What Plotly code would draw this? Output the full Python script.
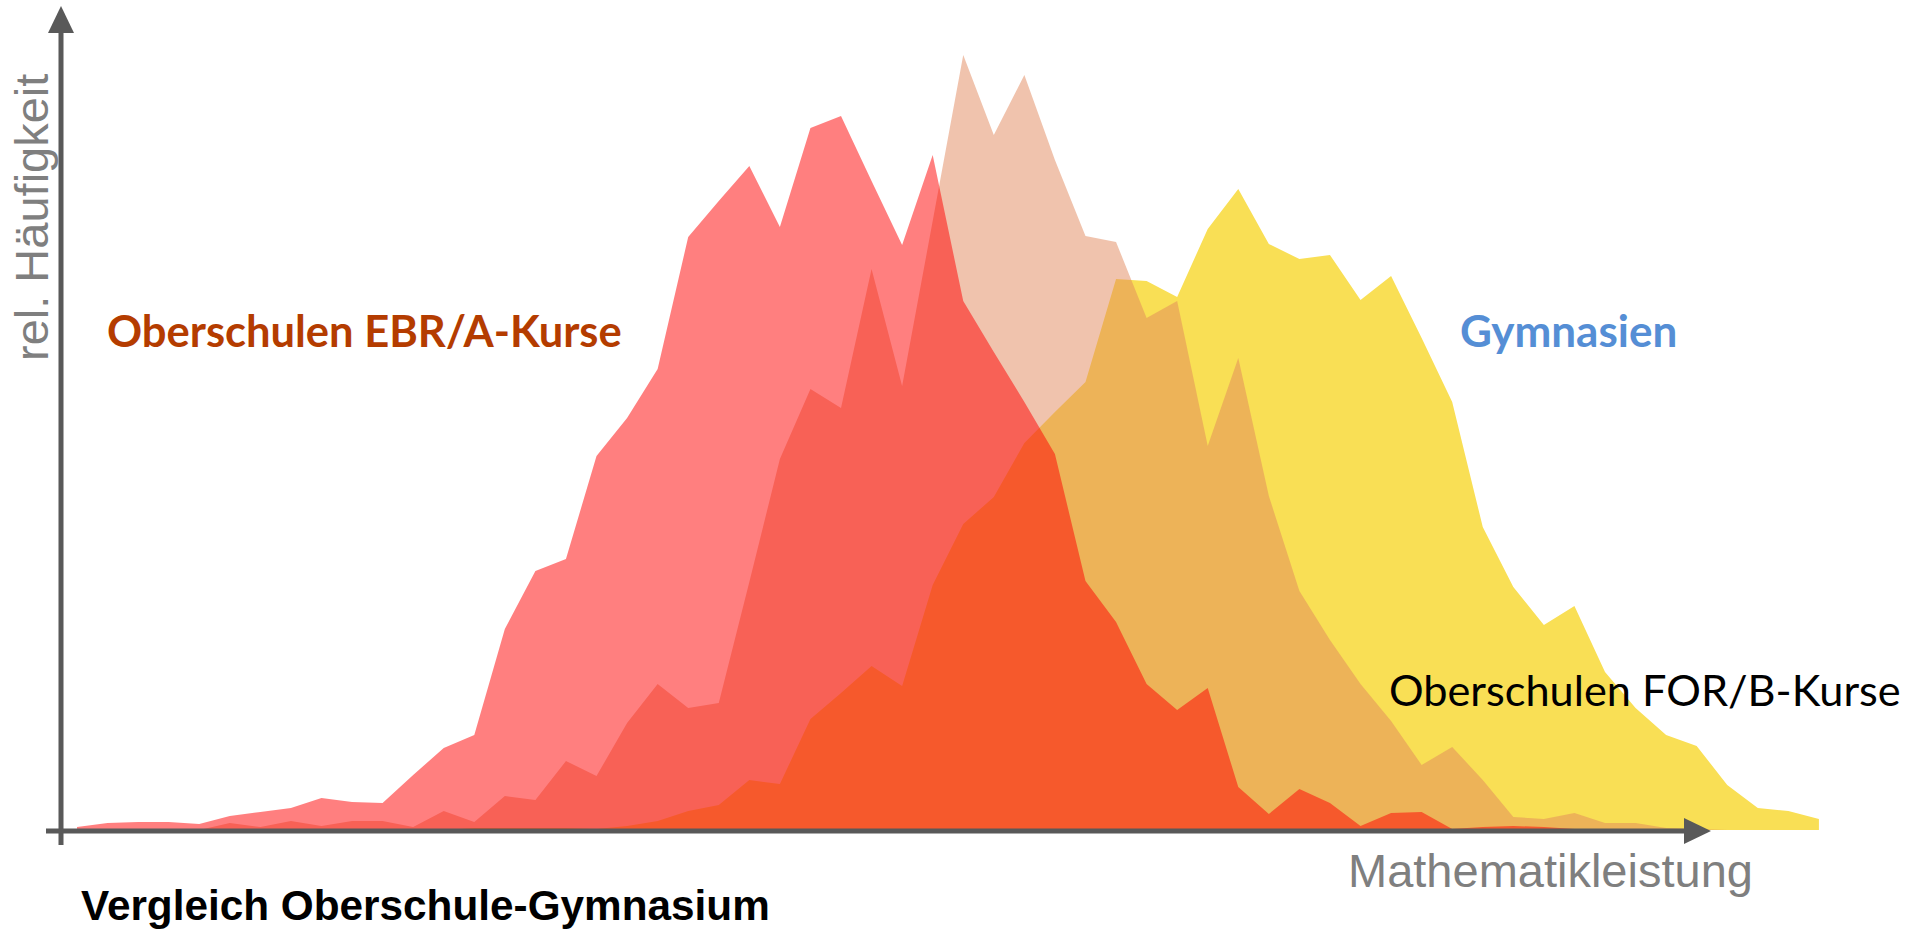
import plotly.graph_objects as go

# score classes (equidistant bins of the achievement scale)
score = list(range(58))

# relative frequencies
ebr_a = [0.3, 0.7, 0.8, 0.8, 0.6, 1.4, 1.8, 2.2, 3.2, 2.8,
         2.7, 5.5, 8.2, 9.5, 20.1, 25.9, 27.1, 37.4, 41.2, 46.1,
         59.3, 62.9, 66.4, 60.3, 70.2, 71.4, 64.9, 58.5, 67.5, 52.9,
         47.8, 42.8, 37.6, 24.9, 20.8, 14.6, 12.0, 14.2, 4.3, 1.6,
         4.1, 2.7, 0.4, 1.7, 1.8, 0.1, 0.3, 0.4, 0.3, 0.1,
         0, 0, 0, 0, 0, 0, 0, 0]
for_b = [0, 0, 0, 0, 0, 0.7, 0.3, 0.9, 0.4, 0.9,
         0.9, 0.3, 1.9, 0.8, 3.4, 3.0, 6.9, 5.4, 10.7, 14.6,
         12.2, 12.7, 24.8, 37.1, 44.1, 42.2, 56.1, 44.4, 60.9, 77.5,
         69.5, 75.5, 67.0, 59.4, 58.8, 51.2, 52.9, 38.4, 47.2, 33.4,
         23.9, 19.0, 14.6, 10.9, 6.5, 8.3, 5.0, 1.3, 1.1, 1.7,
         0.7, 0.7, 0.2, 0.1, 0, 0, 0, 0]
gym = [0, 0, 0, 0, 0, 0, 0, 0, 0, 0,
       0, 0, 0, 0.2, 0.2, 0.2, 0.2, 0.1, 0.4, 0.9,
       1.9, 2.5, 5.0, 4.6, 11.1, 13.7, 16.4, 14.4, 24.5, 30.6,
       33.3, 38.7, 41.8, 44.8, 55.1, 54.9, 53.3, 60.1, 64.1, 58.6,
       57.1, 57.5, 53.0, 55.4, 49.2, 42.8, 30.3, 24.3, 20.5, 22.4,
       15.8, 12.2, 9.5, 8.4, 4.5, 2.2, 1.9, 1.1]

series_names = ["Gymnasien", "Oberschulen FOR/B-Kurse", "Oberschulen EBR/A-Kurse"]

W, H = 1920, 932
AX = "#595959"


def px(x):
    return x / W


def py(y):
    return 1 - y / H


fig = go.Figure()
fig.add_trace(go.Scatter(x=score, y=gym, name=series_names[0], mode="none",
                         fill="tozeroy", fillcolor="rgb(249,223,85)"))
fig.add_trace(go.Scatter(x=score, y=for_b, name=series_names[1], mode="none",
                         fill="tozeroy", fillcolor="rgba(225,135,91,0.5)"))
fig.add_trace(go.Scatter(x=score, y=ebr_a, name=series_names[2], mode="none",
                         fill="tozeroy", fillcolor="rgba(255,0,0,0.5)"))

shapes = [
    # y axis line + arrow head
    dict(type="line", xref="paper", yref="paper", x0=px(61), x1=px(61),
         y0=py(845), y1=py(30), line=dict(color=AX, width=5)),
    dict(type="path", xref="paper", yref="paper",
         path=f"M {px(48)},{py(33)} L {px(74)},{py(33)} L {px(61)},{py(6)} Z",
         fillcolor=AX, line=dict(color=AX, width=0)),
    # x axis line + arrow head
    dict(type="line", xref="paper", yref="paper", x0=px(46), x1=px(1688),
         y0=py(831), y1=py(831), line=dict(color=AX, width=5)),
    dict(type="path", xref="paper", yref="paper",
         path=f"M {px(1684)},{py(818)} L {px(1684)},{py(844)} L {px(1711)},{py(831)} Z",
         fillcolor=AX, line=dict(color=AX, width=0)),
]

ann = [
    dict(text="rel. Häufigkeit", x=px(32), y=py(218), textangle=-90,
         font=dict(family="Liberation Sans, Arial", size=47, color="#7F7F7F")),
    dict(text="Mathematikleistung", x=px(1550), y=py(870),
         font=dict(family="Liberation Sans, Arial", size=47, color="#7F7F7F")),
    dict(text="<b>Vergleich Oberschule-Gymnasium</b>", x=px(79), y=py(905), xanchor="left",
         font=dict(family="Liberation Sans, Arial", size=42.3, color="#000000")),
    dict(text="<b>Oberschulen EBR/A-Kurse</b>", x=px(364), y=py(330),
         font=dict(family="Lato", size=43.5, color="#B43C00")),
    dict(text="<b>Gymnasien</b>", x=px(1568), y=py(330),
         font=dict(family="Lato", size=44, color="#558ED5")),
    dict(text="Oberschulen FOR/B-Kurse", x=px(1645), y=py(689),
         font=dict(family="Lato", size=43.3, color="#000000")),
]
for a in ann:
    a.update(xref="paper", yref="paper", showarrow=False)
    a.setdefault("xanchor", "center")
    a.setdefault("yanchor", "middle")

fig.update_layout(
    width=W, height=H,
    margin=dict(l=0, r=0, t=0, b=0),
    paper_bgcolor="white", plot_bgcolor="white",
    showlegend=False, hovermode=False,
    xaxis=dict(range=[-77 / 30.56, (W - 77) / 30.56], visible=False, fixedrange=True),
    yaxis=dict(range=[-10.2, 83.0], visible=False, fixedrange=True),
    shapes=shapes, annotations=ann,
)

fig.write_html("out.html", config={"displayModeBar": False},
               post_script="document.body.style.margin='0';document.body.style.overflow='hidden';")
